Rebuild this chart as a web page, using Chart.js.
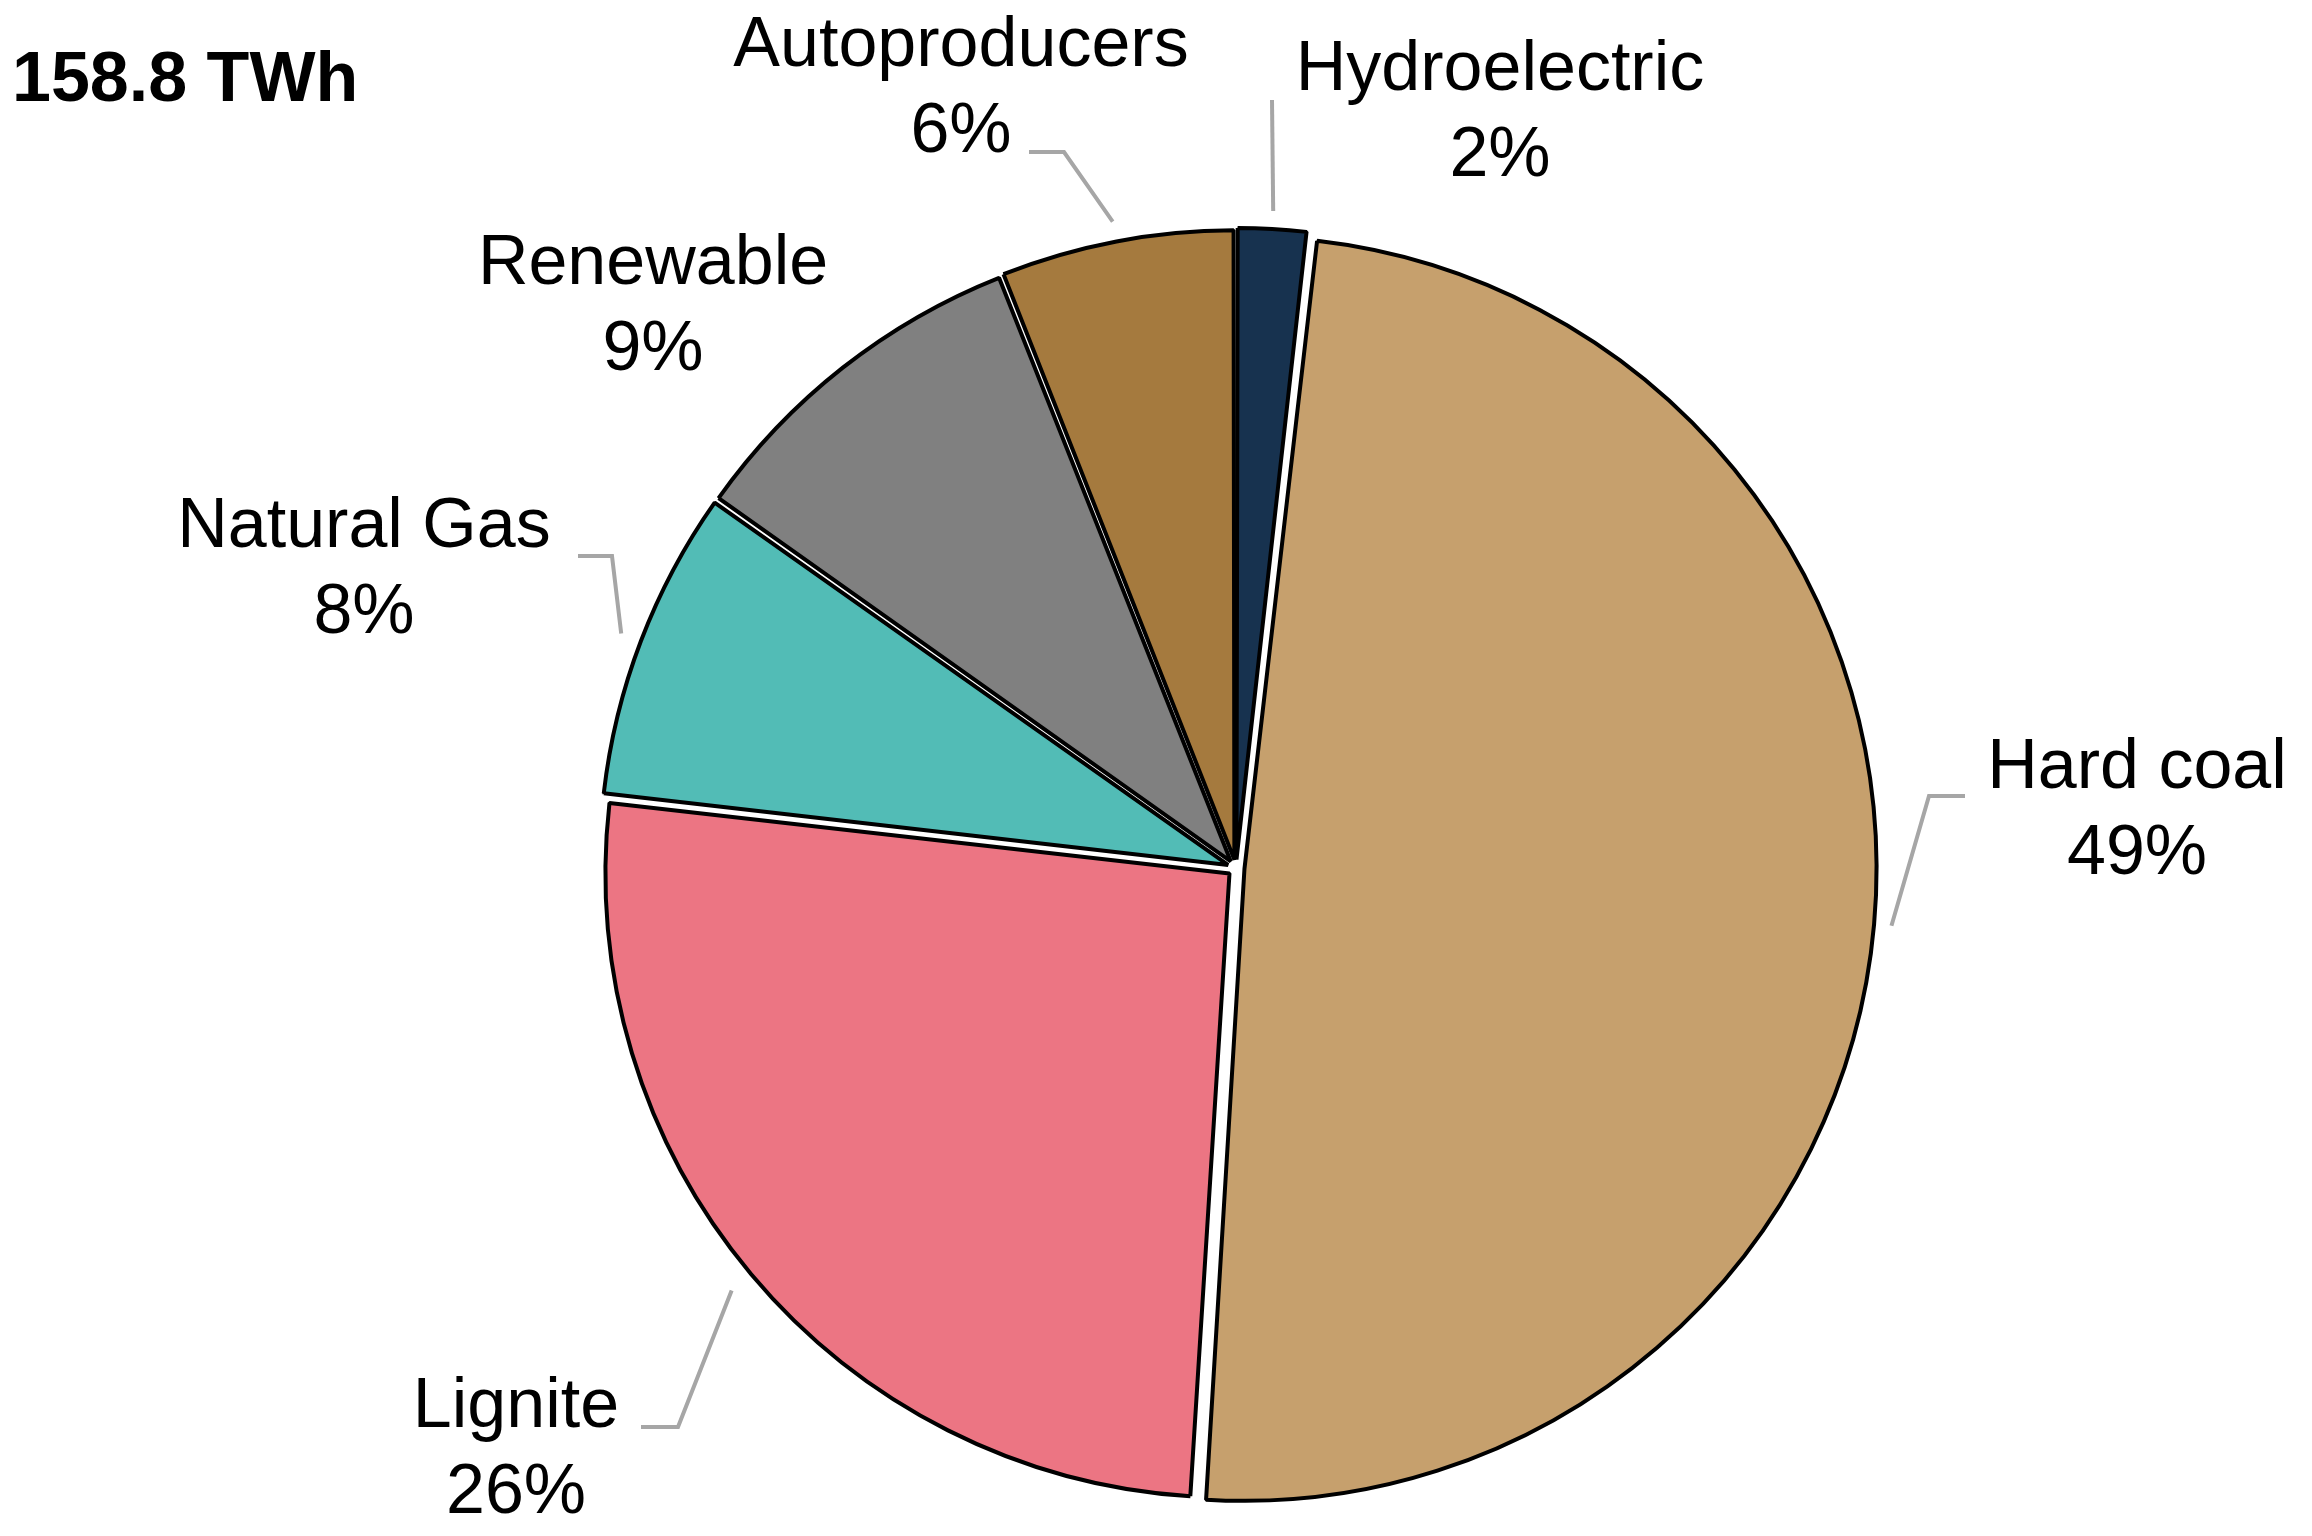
<!DOCTYPE html>
<html>
<head>
<meta charset="utf-8">
<script src="https://cdn.jsdelivr.net/npm/chart.js@4/dist/chart.umd.min.js"></script>
<style>
  html, body { margin: 0; padding: 0; background: #fff; }
  #wrap { width: 2312px; height: 1536px; position: relative; }
</style>
</head>
<body>
<div id="wrap"><canvas id="pie"></canvas></div>
<script>
// Data (clockwise from 12 o'clock)
const categories = ["Hydroelectric", "Hard coal", "Lignite", "Natural Gas", "Renewable", "Autoproducers"];
const shares = [1.8, 49.2, 25.8, 8.0, 9.2, 6.0];
const shareLabels = ["2%", "49%", "26%", "8%", "9%", "6%"];
const colors = ["#17324f", "#c6a06d", "#ec7583", "#52bcb6", "#808080", "#a57a3e"];
const totalLabel = "158.8 TWh";

// label placement: text centre and elbow of leader line (null = no leader)
const labelPos = [
  { x: 1500, y: 71, elbow: [1272, 100], end: null },              // Hydroelectric
  { x: 2137, y: 769, elbow: [1929, 796], end: [1965, 796] },      // Hard coal
  { x: 516, y: 1408, elbow: [678, 1427], end: [641, 1427] },      // Lignite
  { x: 364, y: 528, elbow: [612, 556], end: [578, 556] },         // Natural Gas
  { x: 653, y: 265, elbow: null, end: null },                     // Renewable
  { x: 961, y: 47, elbow: [1064, 152], end: [1029, 152] }         // Autoproducers
];

const labelPlugin = {
  id: "sliceLabels",
  afterDraw(chart) {
    const ctx = chart.ctx;
    const arcs = chart.getDatasetMeta(0).data;
    ctx.save();
    ctx.font = "70px 'Liberation Sans', Arial, sans-serif";
    ctx.textAlign = "center";
    ctx.textBaseline = "middle";
    arcs.forEach((arc, i) => {
      const p = labelPos[i];
      if (p.elbow) {
        const mid = (arc.startAngle + arc.endAngle) / 2;
        const off = arc.options.offset || 0;
        const sx = arc.x + Math.cos(mid) * (arc.outerRadius + off);
        const sy = arc.y + Math.sin(mid) * (arc.outerRadius + off);
        ctx.strokeStyle = "#a6a6a6";
        ctx.lineWidth = 4;
        ctx.beginPath();
        ctx.moveTo(sx, sy);
        ctx.lineTo(p.elbow[0], p.elbow[1]);
        if (p.end) ctx.lineTo(p.end[0], p.end[1]);
        ctx.stroke();
      }
      ctx.fillStyle = "#000";
      ctx.fillText(categories[i], p.x, p.y);
      ctx.fillText(shareLabels[i], p.x, p.y + 86);
    });
    ctx.font = "bold 70px 'Liberation Sans', Arial, sans-serif";
    ctx.textAlign = "left";
    ctx.fillText(totalLabel, 12, 82);
    ctx.restore();
  }
};

new Chart(document.getElementById("pie"), {
  type: "pie",
  data: {
    labels: categories,
    datasets: [{
      data: shares,
      backgroundColor: colors,
      borderColor: "#000",
      borderWidth: 4,
      offset: 34
    }]
  },
  options: {
    responsive: true,
    maintainAspectRatio: false,
    animation: false,
    layout: { padding: { top: 225, bottom: 25, left: 160, right: 0 } },
    plugins: { legend: { display: false }, tooltip: { enabled: false } }
  },
  plugins: [labelPlugin]
});
</script>
</body>
</html>
